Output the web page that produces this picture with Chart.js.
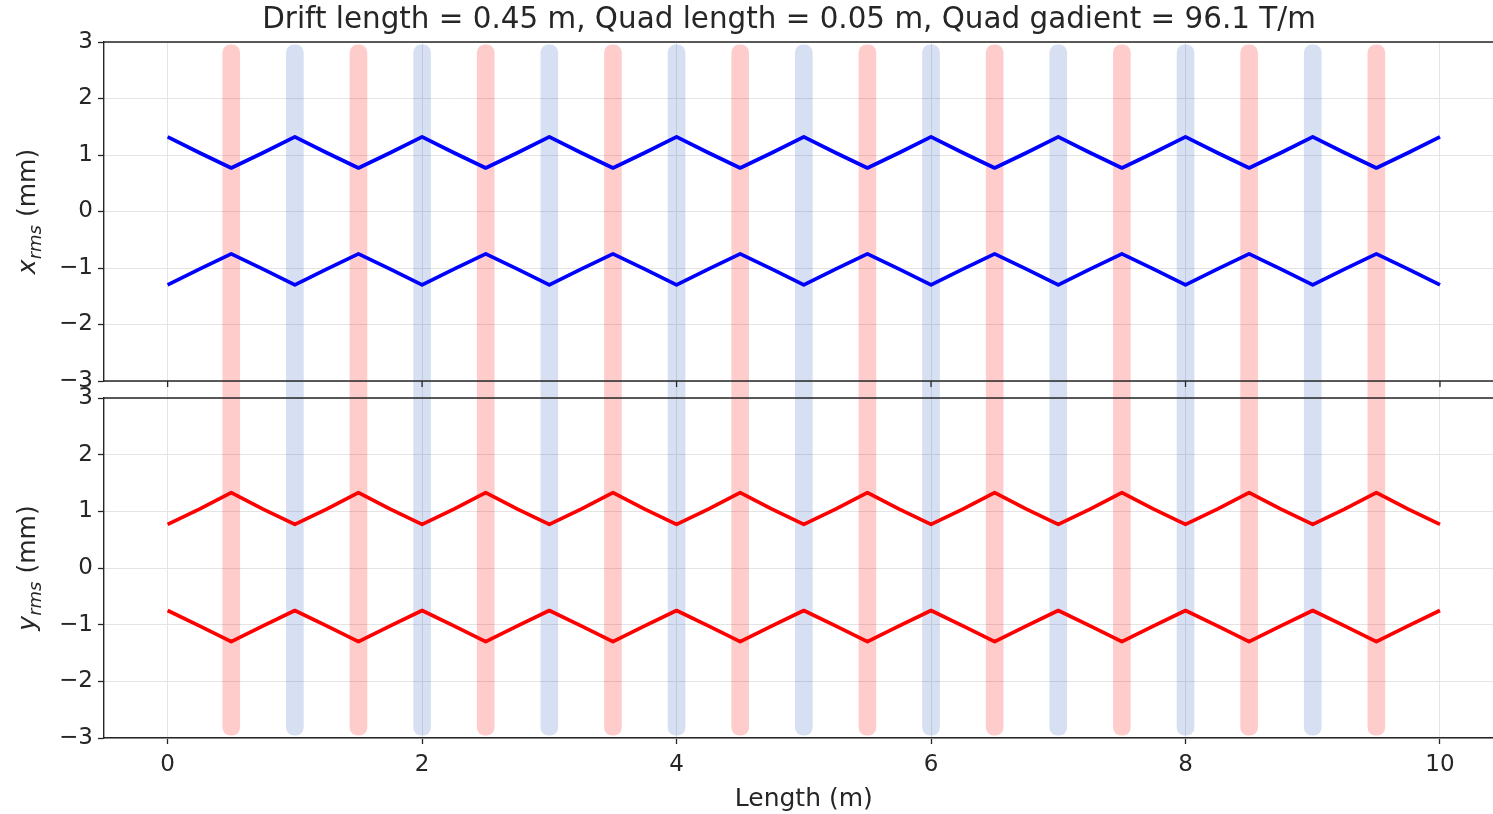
<!DOCTYPE html>
<html>
<head>
<meta charset="utf-8">
<script src="https://cdn.jsdelivr.net/npm/chart.js@4.4.1/dist/chart.umd.min.js"></script>
<style>
  html, body { margin: 0; padding: 0; background: #fff; overflow: hidden; }
  canvas { display: block; }
</style>
</head>
<body>
<canvas id="beamChart" width="1578" height="814"></canvas>
<script>
// positions along the lattice (m)
const sPos = [0, 0.25, 0.5, 0.75, 1, 1.25, 1.5, 1.75, 2, 2.25, 2.5, 2.75, 3, 3.25, 3.5, 3.75,
  4, 4.25, 4.5, 4.75, 5, 5.25, 5.5, 5.75, 6, 6.25, 6.5, 6.75, 7, 7.25, 7.5, 7.75,
  8, 8.25, 8.5, 8.75, 9, 9.25, 9.5, 9.75, 10];

// beam envelope, x plane (mm)
const xUpper = [1.32, 1.04, 0.77, 1.04, 1.32, 1.04, 0.77, 1.04, 1.32, 1.04, 0.77, 1.04, 1.32, 1.04, 0.77, 1.04,
  1.32, 1.04, 0.77, 1.04, 1.32, 1.04, 0.77, 1.04, 1.32, 1.04, 0.77, 1.04, 1.32, 1.04, 0.77, 1.04,
  1.32, 1.04, 0.77, 1.04, 1.32, 1.04, 0.77, 1.04, 1.32];
const xLower = [-1.30, -1.02, -0.75, -1.02, -1.30, -1.02, -0.75, -1.02, -1.30, -1.02, -0.75, -1.02, -1.30, -1.02, -0.75, -1.02,
  -1.30, -1.02, -0.75, -1.02, -1.30, -1.02, -0.75, -1.02, -1.30, -1.02, -0.75, -1.02, -1.30, -1.02, -0.75, -1.02,
  -1.30, -1.02, -0.75, -1.02, -1.30, -1.02, -0.75, -1.02, -1.30];

// beam envelope, y plane (mm)
const yUpper = [0.77, 1.04, 1.33, 1.04, 0.77, 1.04, 1.33, 1.04, 0.77, 1.04, 1.33, 1.04, 0.77, 1.04, 1.33, 1.04,
  0.77, 1.04, 1.33, 1.04, 0.77, 1.04, 1.33, 1.04, 0.77, 1.04, 1.33, 1.04, 0.77, 1.04, 1.33, 1.04,
  0.77, 1.04, 1.33, 1.04, 0.77, 1.04, 1.33, 1.04, 0.77];
const yLower = [-0.75, -1.02, -1.30, -1.02, -0.75, -1.02, -1.30, -1.02, -0.75, -1.02, -1.30, -1.02, -0.75, -1.02, -1.30, -1.02,
  -0.75, -1.02, -1.30, -1.02, -0.75, -1.02, -1.30, -1.02, -0.75, -1.02, -1.30, -1.02, -0.75, -1.02, -1.30, -1.02,
  -0.75, -1.02, -1.30, -1.02, -0.75, -1.02, -1.30, -1.02, -0.75];

// quadrupole centres (m)
const focQuads = [0.5, 1.5, 2.5, 3.5, 4.5, 5.5, 6.5, 7.5, 8.5, 9.5];
const defocQuads = [1, 2, 3, 4, 5, 6, 7, 8, 9];
const quadTop = 2.95;
const quadBottom = -2.95;

const xTicks = [0, 2, 4, 6, 8, 10];
const yTicks = [-3, -2, -1, 0, 1, 2, 3];

const titleText = 'Drift length = 0.45 m, Quad length = 0.05 m, Quad gadient = 96.1 T/m';
const xLabel = 'Length (m)';

const FONT = "'DejaVu Sans', sans-serif";
const axisColor = '#262626';
const gridColor = '#e4e4e4';
const redQuad = 'rgba(255, 0, 0, 0.2)';
const blueQuad = 'rgba(50, 100, 190, 0.2)';

const pts = (ys) => sPos.map((s, i) => ({ x: s, y: ys[i] }));

function quadSet(centres, color, axis, lo, hi, radius) {
  return {
    type: 'bar',
    data: centres.map(c => ({ x: c, y: [lo, hi] })),
    yAxisID: axis,
    backgroundColor: color,
    barThickness: 17,
    grouped: false,
    borderSkipped: false,
    borderRadius: radius,
    order: 2
  };
}

function envelope(ys, color, axis) {
  return {
    type: 'line',
    data: pts(ys),
    yAxisID: axis,
    borderColor: color,
    borderWidth: 3.7,
    pointRadius: 0,
    tension: 0,
    borderJoinStyle: 'round',
    order: 1
  };
}

const topR = { topLeft: 8, topRight: 8, bottomLeft: 0, bottomRight: 0 };
const botR = { topLeft: 0, topRight: 0, bottomLeft: 8, bottomRight: 8 };

function yScale(weight) {
  return {
    type: 'linear',
    position: 'left',
    stack: 'panels',
    stackWeight: weight,
    min: -3,
    max: 3,
    afterBuildTicks: s => { s.ticks = yTicks.map(v => ({ value: v })); },
    afterFit: s => { s.width = 64; },
    ticks: {
      color: axisColor,
      padding: 5,
      font: { family: FONT, size: 23 },
      callback: v => String(v).replace('-', '\u2212')
    },
    grid: { color: gridColor, tickColor: axisColor, tickLength: 6, tickWidth: 1.3 },
    border: { display: true, color: axisColor, width: 1.4 }
  };
}

const spinePlugin = {
  id: 'spines',
  afterDatasetsDraw(chart) {
    const { ctx, chartArea, scales } = chart;
    ctx.save();
    ctx.strokeStyle = axisColor;
    ctx.lineWidth = 1.4;
    [scales.y1.top, scales.y1.bottom, scales.y2.top].forEach(y => {
      ctx.beginPath();
      ctx.moveTo(chartArea.left, y);
      ctx.lineTo(chartArea.right, y);
      ctx.stroke();
    });
    ctx.lineWidth = 1.3;
    xTicks.forEach(v => {
      const px = scales.x.getPixelForValue(v);
      ctx.beginPath();
      ctx.moveTo(px, scales.y1.bottom);
      ctx.lineTo(px, scales.y1.bottom + 6);
      ctx.stroke();
    });
    ctx.restore();
  }
};

function drawSubTitle(ctx, cx, cy, base, sub, tail) {
  const main = `italic 25px ${FONT}`;
  const small = `italic 18px ${FONT}`;
  const plain = `25px ${FONT}`;
  ctx.font = main; const w1 = ctx.measureText(base).width;
  ctx.font = small; const w2 = ctx.measureText(sub).width;
  ctx.font = plain; const w3 = ctx.measureText(tail).width;
  const total = w1 + w2 + w3;
  ctx.save();
  ctx.translate(cx, cy);
  ctx.rotate(-Math.PI / 2);
  ctx.fillStyle = axisColor;
  ctx.textBaseline = 'alphabetic';
  let x = -total / 2;
  ctx.font = main; ctx.fillText(base, x, 9); x += w1;
  ctx.font = small; ctx.fillText(sub, x, 15); x += w2;
  ctx.font = plain; ctx.fillText(tail, x, 9);
  ctx.restore();
}

// y titles with subscript, and the figure title centred on the whole figure
const textPlugin = {
  id: 'figText',
  afterDraw(chart) {
    const { ctx, scales, chartArea } = chart;
    const cx = chartArea.left - 78;
    drawSubTitle(ctx, cx, (scales.y1.top + scales.y1.bottom) / 2, 'x', 'rms', ' (mm)');
    drawSubTitle(ctx, cx, (scales.y2.top + scales.y2.bottom) / 2, 'y', 'rms', ' (mm)');
    ctx.save();
    ctx.font = `29.4px ${FONT}`;
    ctx.fillStyle = axisColor;
    ctx.textAlign = 'center';
    ctx.textBaseline = 'middle';
    ctx.fillText(titleText, chart.width / 2, chartArea.top - 22);
    ctx.restore();
  }
};

new Chart(document.getElementById('beamChart').getContext('2d'), {
  type: 'line',
  data: {
    datasets: [
      quadSet(focQuads, redQuad, 'y1', -3, quadTop, topR),
      quadSet(defocQuads, blueQuad, 'y1', -3, quadTop, topR),
      quadSet(focQuads, redQuad, 'gap', 0, 1, 0),
      quadSet(defocQuads, blueQuad, 'gap', 0, 1, 0),
      quadSet(focQuads, redQuad, 'y2', quadBottom, 3, botR),
      quadSet(defocQuads, blueQuad, 'y2', quadBottom, 3, botR),
      envelope(xUpper, '#0000ff', 'y1'),
      envelope(xLower, '#0000ff', 'y1'),
      envelope(yUpper, '#ff0000', 'y2'),
      envelope(yLower, '#ff0000', 'y2')
    ]
  },
  options: {
    responsive: false,
    animation: false,
    layout: { padding: { left: 40, right: 74.4, top: 42, bottom: 0 } },
    plugins: {
      legend: { display: false },
      tooltip: { enabled: false },
      title: { display: false }
    },
    scales: {
      x: {
        type: 'linear',
        min: -0.5,
        max: 10.5,
        offset: false,
        afterBuildTicks: s => { s.ticks = xTicks.map(v => ({ value: v })); },
        afterFit: s => { s.height = 76; },
        ticks: { color: axisColor, padding: 7, maxRotation: 0, font: { family: FONT, size: 23 } },
        grid: { offset: false, color: gridColor, tickColor: axisColor, tickLength: 6, tickWidth: 1.3 },
        border: { display: true, color: axisColor, width: 1.4 },
        title: {
          display: true,
          text: xLabel,
          color: axisColor,
          font: { family: FONT, size: 25 },
          padding: { top: 0, bottom: 0 }
        }
      },
      y2: yScale(340),
      gap: {
        type: 'linear',
        position: 'left',
        stack: 'panels',
        stackWeight: 17,
        min: 0,
        max: 1,
        afterFit: s => { s.width = 64; },
        ticks: { display: false },
        grid: { display: false },
        border: { display: false }
      },
      y1: yScale(339)
    }
  },
  plugins: [spinePlugin, textPlugin]
});
</script>
</body>
</html>
